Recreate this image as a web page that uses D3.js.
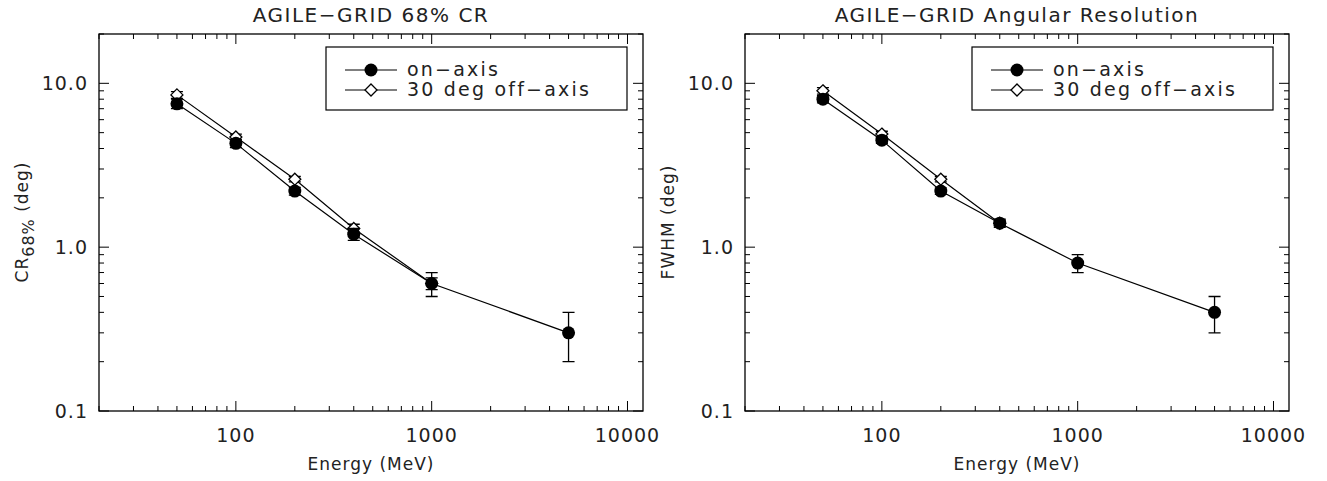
<!DOCTYPE html>
<html><head><meta charset="utf-8">
<script src="https://cdn.jsdelivr.net/npm/d3@7"></script>
<style>body{margin:0;background:#fff}text{font-family:"DejaVu Sans",sans-serif;fill:#222;letter-spacing:1px}</style>
</head><body><svg id="c" width="1327" height="481"></svg>
<script>
var energy = [50, 100, 200, 400, 1000, 5000];
var energyOff = [50, 100, 200, 400, 1000];
var crOn = [7.5, 4.3, 2.2, 1.2, 0.6, 0.3];
var crOnErr = [0.5, 0.25, 0.12, 0.1, 0.1, 0.1];
var crOff = [8.5, 4.7, 2.6, 1.3, 0.6];
var crOffErr = [0.4, 0.2, 0.1, 0.08, 0.05];
var fwOn = [8.0, 4.5, 2.2, 1.4, 0.8, 0.4];
var fwOnErr = [0.4, 0.2, 0.1, 0.08, 0.1, 0.1];
var fwOff = [9.0, 4.9, 2.6, 1.4];
var fwOffErr = [0.4, 0.2, 0.1, 0.05];
var xTicks = [100, 1000, 10000];
var yTicks = [0.1, 1, 10];

var svg = d3.select('#c');

function panel(ox, title, ylab, sub, on, onErr, off, offErr) {
    var g = svg.append('g').attr('transform', 'translate(' + ox + ',0)');
    var x = d3.scaleLog().domain([20, 12000]).range([99, 643]);
    var y = d3.scaleLog().domain([0.1, 20]).range([411, 34]);

    g.append('rect').attr('x', 99).attr('y', 34).attr('width', 544).attr('height', 377)
        .attr('fill', 'none').attr('stroke', '#000').attr('stroke-width', 1.3);

    var xMinor = [], yMinor = [];
    [10, 100, 1000, 10000].forEach(function(d) {
        for (var k = 1; k < 10; k++) { var v = d * k; if (v >= 20 && v <= 12000) xMinor.push(v); }
    });
    [0.1, 1, 10].forEach(function(d) {
        for (var k = 1; k < 10; k++) { var v = d * k; if (v >= 0.1 && v <= 20) yMinor.push(v); }
    });
    xMinor.forEach(function(v) {
        var len = xTicks.indexOf(v) >= 0 ? 10 : 5;
        g.append('line').attr('x1', x(v)).attr('x2', x(v)).attr('y1', 411).attr('y2', 411 - len).attr('stroke', '#000');
        g.append('line').attr('x1', x(v)).attr('x2', x(v)).attr('y1', 34).attr('y2', 34 + len).attr('stroke', '#000');
    });
    yMinor.forEach(function(v) {
        var len = yTicks.indexOf(v) >= 0 ? 10 : 5;
        g.append('line').attr('y1', y(v)).attr('y2', y(v)).attr('x1', 99).attr('x2', 99 + len).attr('stroke', '#000');
        g.append('line').attr('y1', y(v)).attr('y2', y(v)).attr('x1', 643).attr('x2', 643 - len).attr('stroke', '#000');
    });
    xTicks.forEach(function(v) {
        g.append('text').attr('x', x(v)).attr('y', 442).attr('text-anchor', 'middle')
            .attr('font-size', 19).text(v);
    });
    yTicks.forEach(function(v) {
        g.append('text').attr('x', 88).attr('y', y(v) + 7).attr('text-anchor', 'end')
            .attr('font-size', 19).text(v.toFixed(1));
    });
    g.append('text').attr('x', 371).attr('y', 22).attr('text-anchor', 'middle')
        .attr('font-size', 20).style('letter-spacing', '1.5px').text(title);
    g.append('text').attr('x', 371).attr('y', 470).attr('text-anchor', 'middle')
        .attr('font-size', 17).text('Energy (MeV)');
    var yl = g.append('text').attr('transform', 'translate(28,222) rotate(-90)')
        .attr('text-anchor', 'middle').attr('font-size', 17).text(ylab);
    if (sub) yl.append('tspan').attr('dy', 6).attr('font-size', 16).text(sub);
    if (sub) yl.append('tspan').attr('dy', -6).text(' (deg)');

    var line = d3.line().x(function(d) { return x(d[0]); }).y(function(d) { return y(d[1]); });
    function series(xs, ys, es, filled) {
        var pts = xs.map(function(v, i) { return [v, ys[i], es[i]]; });
        g.append('path').attr('d', line(pts)).attr('fill', 'none').attr('stroke', '#000').attr('stroke-width', 1.2);
        pts.forEach(function(p) {
            var cx = x(p[0]), y0 = y(p[1] - p[2]), y1 = y(p[1] + p[2]);
            g.append('path').attr('d', 'M' + cx + ',' + y0 + 'V' + y1 + 'M' + (cx - 6) + ',' + y0 + 'H' + (cx + 6) + 'M' + (cx - 6) + ',' + y1 + 'H' + (cx + 6))
                .attr('stroke', '#000').attr('stroke-width', 1.3).attr('fill', 'none');
            mark(cx, y(p[1]), filled);
        });
    }
    function mark(cx, cy, filled) {
        if (filled) g.append('circle').attr('cx', cx).attr('cy', cy).attr('r', 6.5).attr('fill', '#000');
        else g.append('path').attr('d', 'M' + cx + ',' + (cy - 6) + 'L' + (cx + 6) + ',' + cy + 'L' + cx + ',' + (cy + 6) + 'L' + (cx - 6) + ',' + cy + 'Z')
            .attr('fill', '#fff').attr('stroke', '#000').attr('stroke-width', 1.3);
    }
    series(energyOff.slice(0, off.length), off, offErr, false);
    series(energy, on, onErr, true);

    g.append('rect').attr('x', 326).attr('y', 47).attr('width', 301).attr('height', 63)
        .attr('fill', '#fff').attr('stroke', '#000').attr('stroke-width', 1.2);
    [['on\u2212axis', true, 70], ['30 deg off\u2212axis', false, 90]].forEach(function(r) {
        g.append('line').attr('x1', 345).attr('x2', 397).attr('y1', r[2]).attr('y2', r[2]).attr('stroke', '#000');
        mark(371, r[2], r[1]);
        g.append('text').attr('x', 407).attr('y', r[2] + 6).attr('font-size', 19)
            .style('letter-spacing', '2.2px').text(r[0]);
    });
}

panel(0, 'AGILE\u2212GRID 68% CR', 'CR', '68%', crOn, crOnErr, crOff, crOffErr);
panel(646, 'AGILE\u2212GRID Angular Resolution', 'FWHM (deg)', null, fwOn, fwOnErr, fwOff, fwOffErr);
</script></body></html>
